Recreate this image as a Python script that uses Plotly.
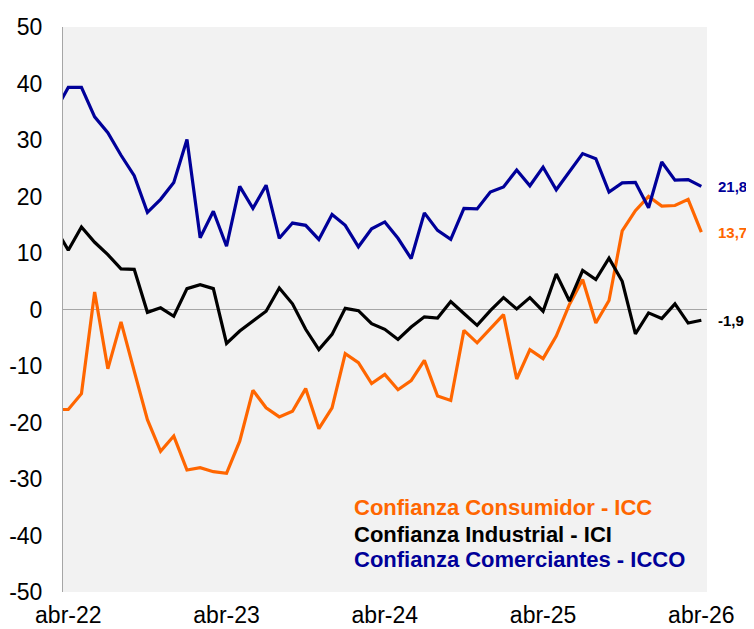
import plotly.graph_objects as go

meses = ["ene", "feb", "mar", "abr", "may", "jun", "jul", "ago", "sep", "oct", "nov", "dic"]
# monthly categories from mar-22 to abr-26
categorias = []
for y in range(22, 27):
    for m in meses:
        categorias.append(f"{m}-{y}")
categorias = categorias[categorias.index("mar-22"):categorias.index("abr-26") + 1]

icc = [-17.7,
       -17.7, -14.9, 3.1, -10.5, -2.2, -10.9, -19.5, -25.1, -22.4, -28.4, -28.0, -28.7,
       -29.0, -23.3, -14.3, -17.4, -19.0, -18.0, -14.0, -21.1, -17.4, -7.8, -9.4, -13.1,
       -11.5, -14.2, -12.6, -9.0, -15.3, -16.1, -3.7, -5.9, -3.4, -0.9, -12.3, -7.1,
       -8.7, -4.7, 0.9, 5.3, -2.4, 1.6, 13.9, 17.5, 20.0, 18.3, 18.4, 19.5,
       13.7]
ici = [14.5,
       10.5, 14.6, 11.9, 9.7, 7.2, 7.1, -0.5, 0.3, -1.2, 3.7, 4.4, 3.7,
       -6.0, -3.8, -2.1, -0.3, 3.8, 1.0, -3.5, -7.1, -4.4, 0.2, -0.2, -2.5,
       -3.5, -5.3, -3.1, -1.3, -1.5, 1.4, -0.7, -2.8, -0.2, 2.1, 0.1, 2.1,
       -0.3, 6.3, 1.5, 6.9, 5.3, 9.1, 5.0, -4.3, -0.6, -1.6, 1.0, -2.4,
       -1.9]
icco = [35.1,
        39.3, 39.3, 34.1, 31.3, 27.3, 23.7, 17.2, 19.5, 22.5, 30.1, 12.7, 17.4,
        11.2, 21.8, 17.9, 22.0, 12.6, 15.3, 14.9, 12.4, 16.8, 14.9, 11.1, 14.3,
        15.5, 12.6, 9.0, 17.1, 14.0, 12.4, 17.9, 17.8, 20.8, 21.7, 24.7, 21.9,
        25.2, 21.2, 24.3, 27.6, 26.7, 20.8, 22.4, 22.5, 18.0, 26.1, 22.9, 23.0,
        21.8]

series = [
    ("Confianza Consumidor - ICC", icc, "#FF6600"),
    ("Confianza Industrial - ICI", ici, "#000000"),
    ("Confianza Comerciantes - ICCO", icco, "#000099"),
]

tick_x = ["abr-22", "abr-23", "abr-24", "abr-25", "abr-26"]
tick_y = list(range(-50, 51, 10))
tick_y_text = [str(v) for v in tick_y]

fig = go.Figure()
for name, vals, color in series:
    fig.add_trace(go.Scatter(x=categorias, y=vals, mode="lines", name=name,
                             line=dict(color=color, width=3.2), showlegend=False))

# end labels
for name, vals, color in series:
    fig.add_annotation(x=categorias[-1], y=vals[-1], xref="x", yref="y",
                       text=f"<b>{vals[-1]:.1f}</b>".replace(".", ","),
                       showarrow=False, xanchor="left", yanchor="middle", xshift=15,
                       font=dict(family="Liberation Sans, Arial", size=15, color=color))

# legend as text
leg_y = [0.149, 0.102, 0.057]
for (name, vals, color), yy in zip(series, leg_y):
    fig.add_annotation(x=0.448, y=yy, xref="paper", yref="paper", text=f"<b>{name}</b>",
                       showarrow=False, xanchor="left", yanchor="middle",
                       font=dict(family="Liberation Sans, Arial", size=22, color=color))

# the page body has an 8px margin, so the figure is sized and offset to fit the window
fig.update_layout(
    width=746, height=621,
    margin=dict(l=55, r=47, t=19, b=37),
    paper_bgcolor="white", plot_bgcolor="#F2F2F2",
    font=dict(family="Liberation Sans, Arial", size=23, color="#000000"),
)
fig.update_xaxes(type="category", range=[0.6, 49.43], tickmode="array",
                 tickvals=tick_x, ticktext=tick_x, showgrid=False, showline=False,
                 zeroline=False, ticks="", ticklabelstandoff=7, automargin=False)
fig.update_yaxes(range=[-50, 50], tickmode="array", tickvals=tick_y, ticktext=tick_y_text,
                 showgrid=False, showline=True, linecolor="#A6A6A6", linewidth=1,
                 zeroline=True, zerolinecolor="#A6A6A6", zerolinewidth=1,
                 ticks="", ticklabelstandoff=15, automargin=False)

fig.write_html("out.html")
